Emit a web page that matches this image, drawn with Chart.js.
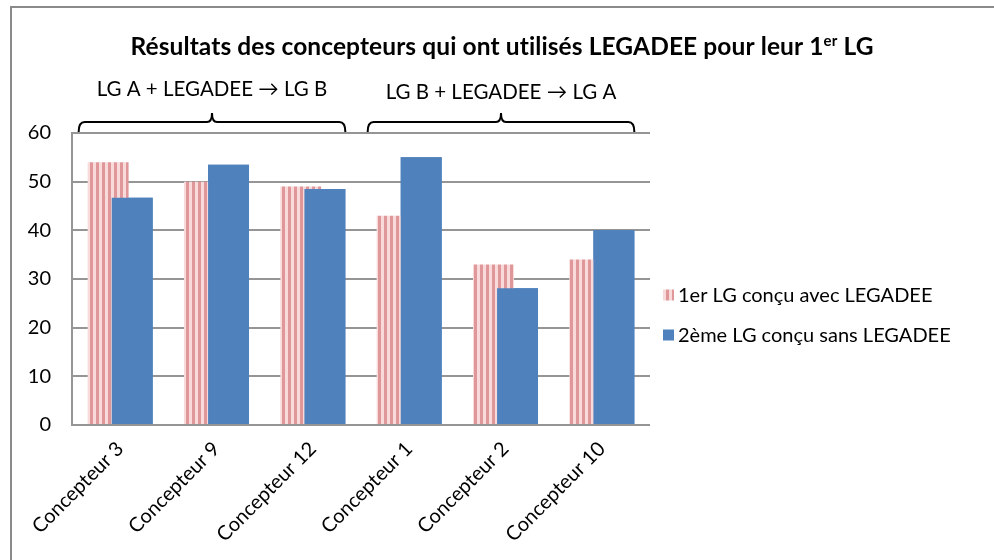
<!DOCTYPE html>
<html>
<head>
<meta charset="utf-8">
<script src="https://cdn.jsdelivr.net/npm/chart.js@4"></script>
<style>
  html, body { margin: 0; padding: 0; background: #fff; }
  canvas { display: block; }
</style>
</head>
<body>
<canvas id="c" width="994" height="560"></canvas>
<script>
// Data
const categories = ['Concepteur 3', 'Concepteur 9', 'Concepteur 12', 'Concepteur 1', 'Concepteur 2', 'Concepteur 10'];
const avecLegadee = [54, 50, 49, 43, 33, 34];
const sansLegadee = [46.7, 53.5, 48.5, 55, 28.1, 40];
const seriesNames = ['1er LG conçu avec LEGADEE', '2ème LG conçu sans LEGADEE'];
const yTicks = [0, 10, 20, 30, 40, 50, 60];
const groupLabels = ['LG A + LEGADEE \u2192 LG B', 'LG B + LEGADEE \u2192 LG A'];
const groupRanges = [[0, 2], [3, 5]];
const titleParts = ['Résultats des concepteurs qui ont utilisés LEGADEE pour leur 1', 'er', ' LG'];

const FONT = 'Lato, "Open Sans", sans-serif';
const canvas = document.getElementById('c');
const ctx0 = canvas.getContext('2d');

// vertical pink stripes for the first series
function stripePattern() {
  const tile = document.createElement('canvas');
  tile.width = 6; tile.height = 6;
  const g = tile.getContext('2d');
  g.fillStyle = '#F8DADA'; g.fillRect(0, 0, 6, 6);
  g.fillStyle = '#E0979A'; g.fillRect(0, 0, 3, 6);
  return ctx0.createPattern(tile, 'repeat');
}
const pinkStripes = stripePattern();
const blue = '#4F81BD';

// frame + white background
const framePlugin = {
  id: 'frame',
  beforeDraw(chart) {
    const c = chart.ctx;
    c.save();
    c.fillStyle = '#fff';
    c.fillRect(0, 0, chart.width, chart.height);
    c.strokeStyle = '#8a8a8a';
    c.lineWidth = 2;
    c.strokeRect(11, 7, chart.width + 20, chart.height + 20);
    c.restore();
  }
};

// second series is painted over the first where the bars overlap
const overlapPlugin = {
  id: 'overlap',
  afterDatasetsDraw(chart) {
    chart.getDatasetMeta(1).controller.draw();
  }
};

// title with superscript, group braces, legend
const decorPlugin = {
  id: 'decor',
  afterDraw(chart) {
    const c = chart.ctx;
    c.save();
    c.fillStyle = '#000';
    c.textBaseline = 'alphabetic';
    if ('letterSpacing' in c) c.letterSpacing = '0.1px';

    // title
    const fMain = 'bold 24.5px ' + FONT;
    const fSup = 'bold 15px ' + FONT;
    c.font = fMain;
    const w1 = c.measureText(titleParts[0]).width;
    const w3 = c.measureText(titleParts[2]).width;
    c.font = fSup;
    const w2 = c.measureText(titleParts[1]).width;
    let x = 502 - (w1 + w2 + w3) / 2;
    const yb = 55;
    c.textAlign = 'left';
    c.font = fMain; c.fillText(titleParts[0], x, yb); x += w1;
    c.font = fSup; c.fillText(titleParts[1], x, yb - 9); x += w2;
    c.font = fMain; c.fillText(titleParts[2], x, yb);
    if ('letterSpacing' in c) c.letterSpacing = '0px';

    // braces over each group of designers
    const m0 = chart.getDatasetMeta(0), m1 = chart.getDatasetMeta(1);
    const top = chart.chartArea.top;
    c.strokeStyle = '#000';
    c.lineWidth = 2;
    c.font = '20.5px ' + FONT;
    c.textAlign = 'center';
    c.textBaseline = 'middle';
    groupRanges.forEach((r, i) => {
      const b0 = m0.data[r[0]], b1 = m1.data[r[1]];
      const x0 = b0.x - b0.width / 2 - 9;
      const x1 = b1.x + b1.width / 2;
      const xc = (x0 + x1) / 2;
      const yl = top - 11, yEnd = top - 1, yTip = top - 20;
      c.beginPath();
      c.moveTo(x0, yEnd);
      c.quadraticCurveTo(x0, yl, x0 + 6, yl);
      c.lineTo(xc - 5, yl);
      c.quadraticCurveTo(xc, yl, xc, yTip);
      c.quadraticCurveTo(xc, yl, xc + 5, yl);
      c.lineTo(x1 - 6, yl);
      c.quadraticCurveTo(x1, yl, x1, yEnd);
      c.stroke();
      c.fillText(groupLabels[i], xc, top - 44 + i * 3);
    });

    // legend
    c.textAlign = 'left';
    c.font = '20px ' + FONT;
    chart.data.datasets.forEach((ds, i) => {
      const yc = 295 + i * 40;
      c.fillStyle = ds.backgroundColor;
      c.fillRect(663, yc - 5.5, 11, 11);
      c.fillStyle = '#000';
      c.fillText(ds.label, 678, yc + 1);
    });
    c.restore();
  }
};

new Chart(canvas, {
  type: 'bar',
  data: {
    labels: categories,
    datasets: [
      { label: seriesNames[0], data: avecLegadee, backgroundColor: pinkStripes, borderWidth: 0 },
      { label: seriesNames[1], data: sansLegadee, backgroundColor: blue, borderWidth: 0 }
    ]
  },
  options: {
    responsive: false,
    animation: false,
    events: [],
    categoryPercentage: 0.5,
    barPercentage: 1.7,
    layout: { padding: { left: 0, top: 133, right: 344, bottom: 0 } },
    plugins: {
      legend: { display: false },
      title: { display: false },
      tooltip: { enabled: false }
    },
    scales: {
      x: {
        grid: { display: false },
        border: { display: false },
        ticks: {
          minRotation: 45, maxRotation: 45, padding: 4,
          color: '#000', font: { family: FONT, size: 20 }
        },
        afterFit(s) { s.height = 135; }
      },
      y: {
        min: 0, max: 60,
        afterBuildTicks(s) { s.ticks = yTicks.map(v => ({ value: v })); },
        grid: { color: '#959595', lineWidth: 2, drawTicks: false },
        border: { display: true, color: '#959595', width: 2 },
        ticks: { color: '#000', padding: 21, font: { family: FONT, size: 20 } },
        afterFit(s) { s.width = 72; }
      }
    }
  },
  plugins: [framePlugin, overlapPlugin, decorPlugin]
});
</script>
</body>
</html>
